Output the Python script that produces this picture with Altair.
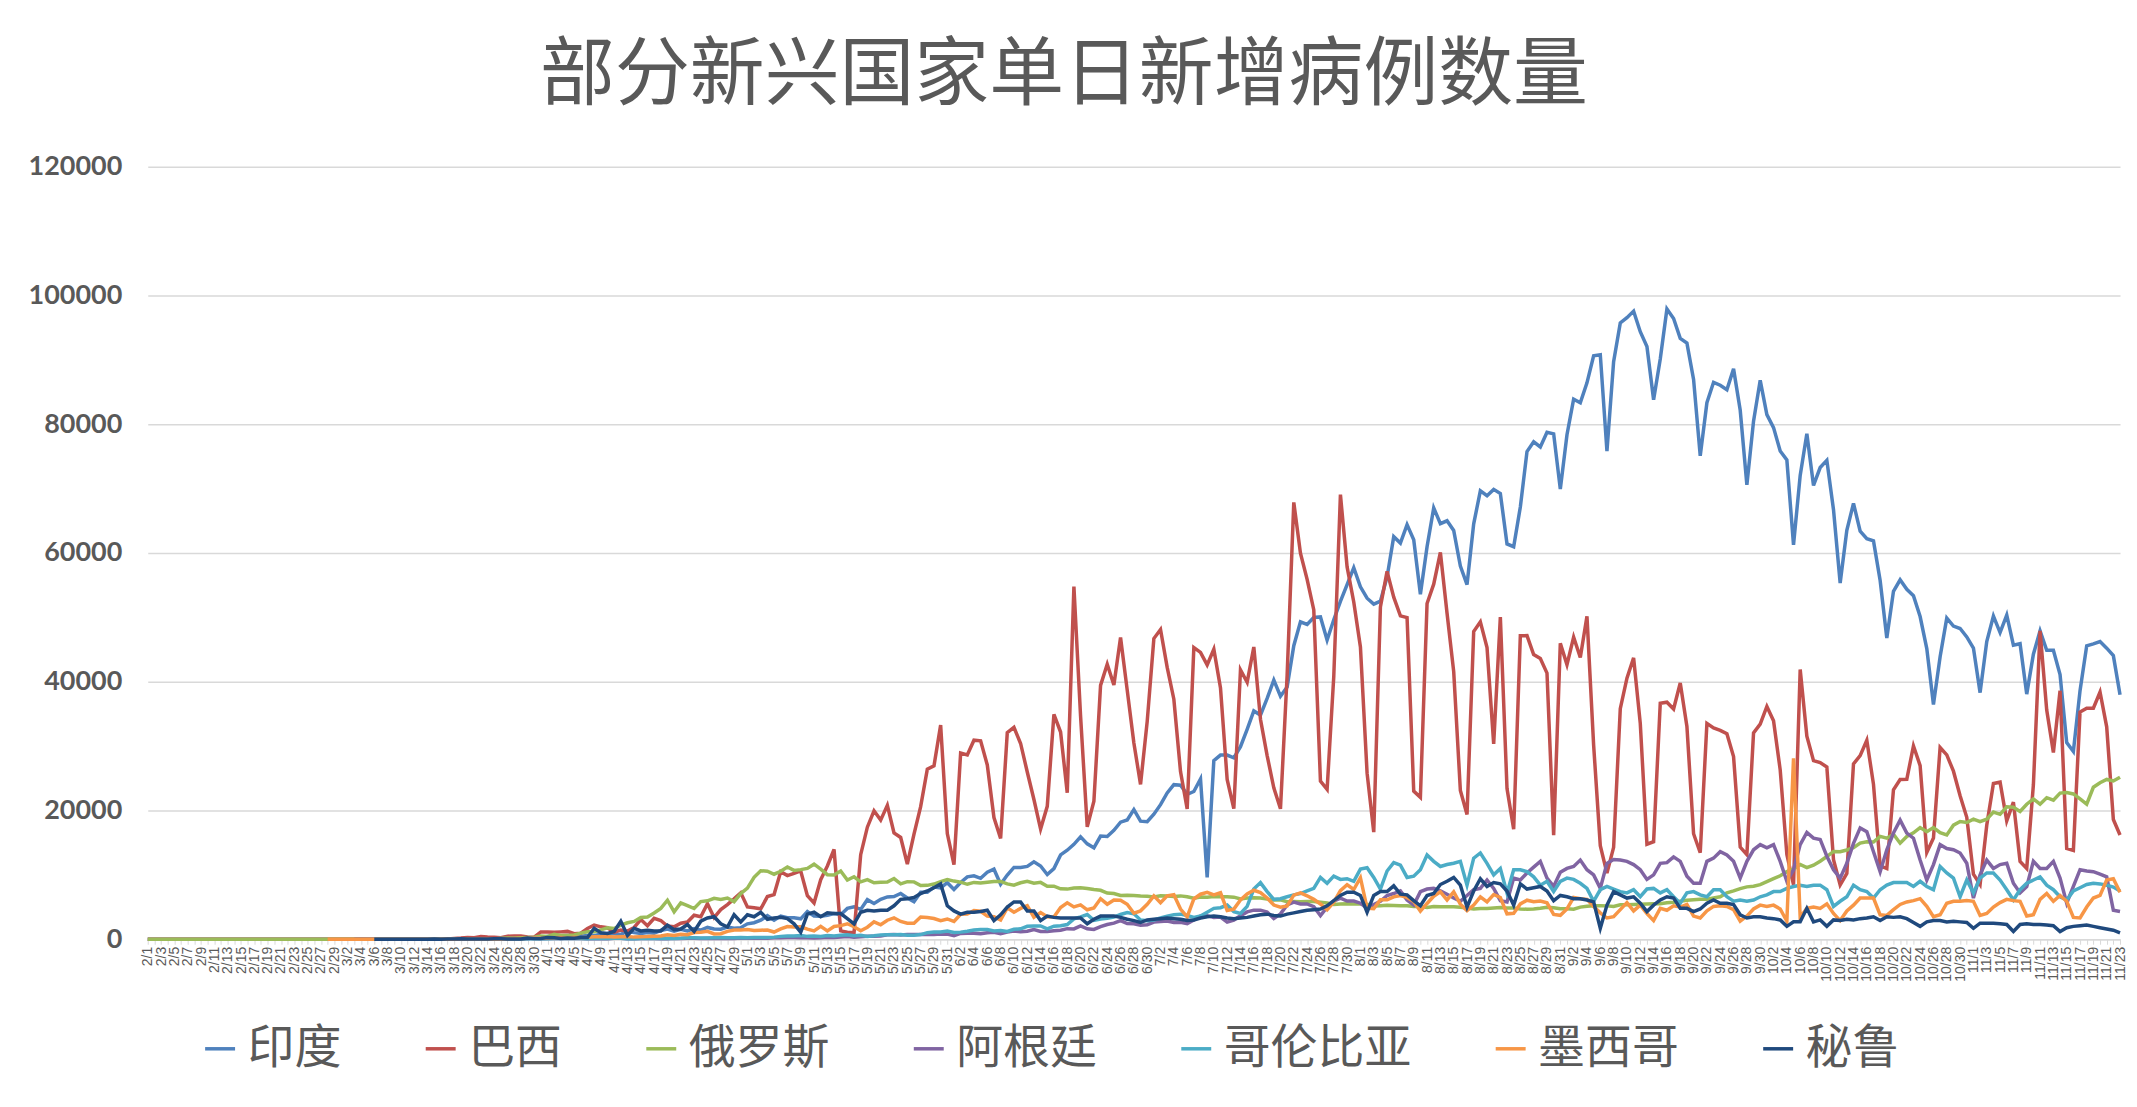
import altair as alt
import pandas as pd

# categories: one per day, 2/1 .. 11/23
dates = pd.date_range("2020-02-01", "2020-11-23", freq="D")
date_labels = [f"{d.month}/{d.day}" for d in dates]
month_len = [29, 31, 30, 31, 30, 31, 31, 30, 31, 23]

countries = ["印度", "巴西", "俄罗斯", "阿根廷", "哥伦比亚", "墨西哥", "秘鲁"]
colors = ["#4F81BD", "#C0504D", "#9BBB59", "#8064A2", "#4BACC6", "#F79646", "#1F497D"]
first_day = ["2/1", "2/1", "2/1", "3/3", "3/6", "2/28", "3/6"]

# daily new cases, one inner list per month (Feb .. Nov)
india = [
    [0, 1, 1, 0, 0, 0, 0, 0, 0, 0, 0, 0, 0, 0, 0, 0, 0, 0, 0, 0, 0, 0, 0, 0, 0, 0, 0, 0, 0],
    [0, 2, 1, 22, 2, 1, 3, 5, 9, 15, 8, 10, 12, 11, 10, 16, 14, 14, 28, 58, 79, 69, 94, 74, 86, 73, 153, 136, 120, 187, 309],
    [424, 486, 560, 579, 609, 484, 573, 565, 813, 871, 854, 758, 1243, 1031, 886, 1061, 922, 1371, 1580, 1239, 1537, 1292, 1667, 1408, 1835, 1607, 1568, 1902, 1705, 1801],
    [2396, 2564, 2952, 3656, 2971, 3602, 3344, 3339, 3175, 4311, 3592, 3562, 3726, 3991, 3808, 4794, 5049, 4630, 6147, 5553, 6198, 6568, 6629, 7113, 6414, 5843, 7293, 7300, 8105, 7964, 8789],
    [7723, 8812, 9689, 9849, 9472, 10408, 10882, 8536, 9981, 11156, 11135, 11306, 12039, 11374, 10049, 10974, 13103, 13827, 14740, 15915, 14821, 14199, 16020, 15968, 16922, 18185, 18522, 20131, 18339, 18256],
    [19429, 20903, 22721, 24015, 23932, 22510, 22953, 24898, 9600, 27755, 28606, 28613, 28178, 29917, 32607, 35468, 34820, 37411, 40243, 37740, 39170, 45601, 49310, 48892, 49981, 50072, 46484, 49632, 52479, 55078, 57704],
    [54735, 52972, 52050, 52509, 56282, 62538, 61537, 64399, 62064, 53601, 60963, 66999, 64553, 65002, 63490, 57981, 55079, 64531, 69652, 68898, 69878, 69239, 61408, 60975, 67151, 75760, 77266, 76472, 78761, 78512, 69921],
    [78357, 83883, 83341, 86432, 90632, 90802, 75809, 89706, 95735, 96551, 97570, 94372, 92071, 83809, 90123, 97894, 96424, 93337, 92605, 86961, 75083, 83347, 86508, 86052, 85362, 88600, 82170, 70589, 80472, 86821],
    [81484, 79476, 75829, 74442, 61267, 72049, 78524, 70496, 73272, 74383, 66732, 55342, 63509, 67708, 63371, 62212, 61871, 55722, 46790, 54044, 55839, 54366, 53370, 50129, 45149, 36469, 43893, 49881, 48648, 48268, 46963],
    [45231, 38310, 46253, 50210, 47638, 50357, 45674, 45903, 38073, 44281, 47905, 44879, 44878, 41100, 30548, 29163, 38617, 45576, 45882, 46232, 45209, 44059, 37975],
]
brazil = [
    [0, 0, 0, 0, 0, 0, 0, 0, 0, 0, 0, 0, 0, 0, 0, 0, 0, 0, 0, 0, 0, 0, 0, 0, 0, 1, 0, 0, 1],
    [0, 0, 0, 1, 5, 5, 6, 6, 5, 9, 18, 25, 21, 23, 79, 34, 57, 137, 193, 283, 224, 418, 345, 310, 232, 482, 502, 487, 352, 323, 1138],
    [1119, 1074, 1146, 1222, 852, 926, 1661, 2210, 1930, 1781, 1089, 1442, 1261, 1832, 3058, 2105, 3257, 2917, 2055, 1927, 2498, 2678, 3735, 3503, 5514, 3379, 4613, 5385, 6276, 7218],
    [5015, 4898, 4726, 6633, 6935, 10503, 9888, 10222, 10611, 6760, 5632, 9258, 11385, 13944, 1300, 1100, 1000, 13140, 17408, 19951, 18508, 20803, 16508, 15813, 11687, 16324, 20599, 26417, 26928, 33274, 16409],
    [11598, 28936, 28633, 30925, 30830, 27075, 18912, 15654, 32091, 32913, 30412, 25982, 21704, 17110, 20647, 34918, 32188, 22765, 54771, 34666, 17459, 21432, 39436, 42725, 39483, 46860, 38693, 30476, 24052, 33846],
    [46712, 48105, 42223, 37279, 26051, 20229, 45305, 44571, 42619, 45048, 39023, 24831, 20286, 41857, 39924, 45403, 34177, 28532, 23529, 20257, 41008, 67860, 59961, 55891, 51147, 24578, 23284, 40816, 69074, 57837, 52383],
    [45392, 25800, 16641, 51603, 57152, 53139, 50230, 49970, 23010, 22048, 52160, 55155, 60091, 50644, 41576, 23101, 19373, 47784, 49298, 45323, 30355, 50032, 23421, 17078, 47134, 47161, 44235, 43600, 41350, 16158, 45961],
    [42659, 46934, 43773, 50163, 30168, 14521, 10273, 14279, 35816, 40557, 43718, 33523, 14768, 15155, 36653, 36820, 35757, 39797, 33057, 16389, 13439, 33536, 32817, 32445, 31911, 28378, 14318, 13155, 32058, 33413],
    [36157, 33922, 26310, 13155, 8456, 41906, 31553, 27750, 27444, 26749, 12342, 8426, 10220, 27235, 28523, 30914, 24062, 11397, 10982, 23227, 24818, 24858, 30026, 26979, 13493, 15726, 29787, 28629, 26106, 22282, 18947],
    [10100, 8501, 17700, 24200, 24400, 18400, 21300, 12100, 11000, 24000, 47900, 35600, 29000, 38600, 14100, 13800, 35300, 35900, 35900, 38400, 33000, 18600, 16200],
]
russia = [
    [0, 0, 0, 0, 0, 0, 0, 0, 0, 0, 0, 0, 0, 0, 0, 0, 0, 0, 0, 0, 0, 0, 0, 0, 0, 0, 0, 0, 0],
    [0, 1, 0, 0, 1, 6, 0, 3, 0, 3, 8, 6, 11, 14, 4, 30, 21, 33, 52, 54, 53, 61, 71, 57, 163, 182, 196, 228, 270, 302, 501],
    [440, 771, 601, 582, 658, 954, 1154, 1175, 1459, 1786, 1667, 2186, 2558, 2774, 3388, 3448, 4070, 4785, 6060, 4268, 5642, 5236, 4774, 5849, 5966, 6361, 6198, 6411, 5841, 7099],
    [7933, 9623, 10633, 10581, 10102, 10559, 11231, 10699, 10817, 11012, 11656, 10899, 10028, 9974, 10598, 9200, 9709, 8926, 9263, 8764, 8849, 8894, 9434, 8599, 8946, 8915, 8338, 8371, 8572, 8952, 9268],
    [9035, 8863, 8536, 8831, 8726, 8855, 8984, 8985, 8595, 8404, 8779, 8987, 8706, 8835, 8246, 8248, 7843, 7790, 7972, 8002, 7889, 7728, 7600, 7176, 7113, 6800, 6852, 6791, 6719, 6693],
    [6556, 6760, 6718, 6632, 6736, 6611, 6368, 6562, 6509, 6635, 6611, 6615, 6537, 6248, 6422, 6428, 6406, 6234, 6109, 6139, 5842, 5862, 5811, 5848, 5871, 5765, 5635, 5395, 5475, 5509, 5482],
    [5462, 5427, 5159, 5204, 5267, 5241, 5212, 5189, 5102, 5118, 4945, 5102, 5057, 5065, 5061, 4969, 4839, 4718, 4790, 4767, 4870, 4921, 4852, 4852, 4696, 4676, 4711, 4829, 4980, 4897, 4729],
    [4729, 4670, 4995, 5110, 5205, 5195, 5185, 5099, 5363, 5363, 5406, 5449, 5488, 5509, 5529, 5670, 5762, 5905, 6065, 6148, 6196, 6215, 6431, 6595, 7212, 7523, 7867, 8135, 8232, 8481],
    [8945, 9412, 9859, 10499, 10888, 11615, 11115, 11493, 12126, 12846, 13634, 13592, 13868, 14231, 14926, 15150, 15099, 15982, 15700, 16319, 14922, 15971, 16521, 17340, 16710, 17347, 16550, 16202, 17717, 18283, 18140],
    [18665, 18257, 18648, 19768, 19404, 20582, 20498, 19851, 20977, 21798, 20977, 21983, 21608, 22702, 22778, 22572, 21817, 20977, 23610, 24318, 24822, 24581, 25173],
]
argentina = [
    [1, 0, 1, 6, 1, 3, 5, 2, 2, 12, 3, 11, 11, 9, 14, 14, 31, 30, 67, 41, 36, 86, 116, 87, 101, 55, 75, 146, 88],
    [101, 115, 132, 98, 137, 97, 77, 103, 66, 87, 145, 167, 88, 81, 105, 139, 115, 85, 90, 158, 101, 165, 144, 111, 172, 124, 111, 159, 121, 182],
    [173, 162, 145, 163, 240, 244, 254, 256, 233, 239, 211, 235, 316, 283, 362, 432, 308, 386, 475, 471, 501, 704, 747, 653, 724, 729, 724, 795, 722, 820, 795],
    [564, 904, 949, 929, 840, 1005, 1081, 846, 1116, 1294, 1180, 1242, 1497, 1222, 1214, 1304, 1393, 1646, 1600, 2084, 1629, 1525, 1952, 2285, 2504, 2885, 2430, 2401, 2188, 2262],
    [2667, 2744, 2845, 2605, 2632, 2439, 2979, 3604, 3663, 3367, 3449, 2657, 2979, 3645, 4250, 4518, 4518, 4231, 3223, 3937, 5344, 5782, 5493, 5493, 5064, 3685, 4987, 5932, 6377, 5929, 5929],
    [5600, 4800, 5400, 5900, 6800, 7100, 7500, 6100, 5300, 7400, 7800, 7900, 7500, 7000, 6400, 5900, 6800, 7700, 7900, 9200, 7900, 6000, 5800, 9500, 9200, 10300, 11200, 12100, 9500, 8200, 10400],
    [11000, 11300, 12300, 10800, 10000, 7900, 11800, 12400, 12300, 12100, 11600, 10800, 9300, 10000, 11800, 11900, 12800, 12100, 9800, 8700, 8700, 12100, 12600, 13600, 13100, 12100, 9500, 12100, 13900, 14700],
    [14200, 14700, 12100, 9000, 10800, 14700, 16600, 15700, 15500, 12900, 10800, 9500, 11800, 14900, 17300, 16700, 13600, 10500, 13900, 16500, 18500, 16500, 15700, 12300, 9200, 11600, 14700, 14100, 13900, 13400, 11800],
    [6400, 10000, 12300, 11000, 11600, 11800, 8700, 7200, 8200, 12100, 11000, 11000, 12100, 9500, 5600, 8200, 10800, 10600, 10500, 10100, 9700, 4500, 4300],
]
colombia = [
    [1, 0, 0, 2, 0, 6, 0, 7, 8, 21, 11, 20, 28, 9, 35, 52, 35, 29, 72, 92, 21, 43, 49, 94, 96, 108],
    [92, 104, 115, 121, 124, 114, 79, 163, 126, 107, 165, 152, 71, 75, 130, 127, 129, 133, 156, 133, 170, 231, 230, 200, 213, 229, 262, 237, 242, 275],
    [250, 278, 257, 288, 331, 447, 497, 521, 595, 449, 489, 416, 583, 499, 608, 688, 542, 615, 439, 539, 678, 698, 713, 726, 619, 613, 726, 1025, 1140, 1134, 1263],
    [1051, 1107, 1231, 1422, 1517, 1511, 1301, 1366, 1213, 1543, 1625, 2010, 2047, 2060, 1620, 2026, 2112, 2279, 3171, 3486, 3843, 2932, 3153, 3274, 3430, 3853, 4149, 3950, 3003, 2873],
    [3000, 3300, 3600, 3800, 3900, 3700, 3400, 3600, 4200, 4800, 4900, 5300, 4300, 4000, 5100, 7800, 8800, 7400, 6200, 6300, 6600, 6900, 7100, 7500, 7900, 9600, 8700, 9800, 9300, 9400, 9000],
    [10900, 11100, 9600, 7800, 10600, 11900, 11500, 9600, 9800, 10800, 13100, 12100, 11300, 11600, 11800, 12100, 8400, 12600, 13400, 11800, 10000, 11000, 7200, 10800, 10800, 10500, 9700, 8400, 9000, 7400, 9000],
    [9500, 9300, 8700, 7900, 5900, 7700, 8200, 7800, 7400, 7200, 7700, 6600, 7800, 7900, 7200, 7700, 6600, 5600, 7200, 7400, 6900, 6600, 7700, 7700, 6600, 5900, 6100, 5900, 6100, 6600],
    [6900, 7400, 7400, 7900, 8200, 8400, 8200, 8400, 8400, 7700, 5100, 5900, 6600, 8400, 7700, 7400, 6400, 7700, 8400, 8800, 8800, 8800, 8200, 9000, 8200, 7700, 11300, 10300, 9500, 6600, 9200],
    [7200, 9500, 10300, 10300, 9200, 7700, 6100, 7700, 8700, 9200, 9700, 8400, 7700, 6600, 6100, 7500, 8000, 8500, 8700, 8600, 8400, 8100, 7500],
]
mexico = [
    [2, 2],
    [0, 1, 0, 1, 0, 1, 0, 0, 1, 0, 4, 4, 4, 15, 14, 12, 29, 11, 25, 46, 39, 48, 65, 53, 38, 70, 110, 131, 139, 142, 163],
    [178, 225, 284, 160, 299, 253, 296, 396, 403, 429, 350, 407, 442, 332, 384, 412, 482, 500, 702, 578, 764, 699, 1043, 1089, 1239, 835, 852, 1223, 1448, 1425],
    [1515, 1349, 1406, 1434, 1120, 1609, 1982, 1906, 1938, 1562, 1305, 1997, 1305, 1992, 2112, 2409, 1937, 1305, 1873, 2713, 2248, 2960, 3329, 2764, 2483, 2485, 3455, 3377, 3227, 2885, 3152],
    [2771, 3891, 3912, 4442, 4346, 3593, 3484, 2999, 4883, 4199, 4790, 5222, 3427, 4147, 3494, 3455, 4930, 5662, 5030, 5343, 4577, 4866, 6288, 5441, 6104, 6066, 5441, 4050, 4410, 5432],
    [6741, 5681, 6740, 6914, 4683, 3486, 6258, 6995, 7280, 6891, 7221, 4482, 4685, 6094, 7051, 7615, 7257, 6406, 5311, 4973, 5172, 6859, 7208, 6751, 6197, 5480, 4579, 5752, 7548, 8458, 7730],
    [9556, 4853, 4767, 6148, 6139, 6590, 6799, 6495, 5858, 4376, 5558, 6686, 7371, 6107, 7371, 5454, 4448, 5311, 6590, 5792, 6948, 6482, 3948, 4035, 5489, 6064, 5824, 5936, 5658, 3858, 3719],
    [4700, 6500, 6300, 6200, 5100, 4100, 3300, 3500, 4600, 5700, 4400, 5300, 4000, 2900, 4800, 4500, 5200, 5000, 5400, 3600, 3300, 4400, 5100, 5200, 5100, 4600, 2800, 3600, 4700, 5300],
    [5100, 5300, 4700, 2800, 28115, 3400, 4800, 5000, 4800, 5500, 4000, 2900, 4400, 5300, 6400, 6400, 6400, 3800, 3700, 4600, 5400, 5800, 6000, 6300, 5100, 3500, 3800, 5600, 5900, 5900, 6000],
    [5900, 3700, 4000, 5000, 5700, 6200, 6000, 5900, 3600, 3800, 6200, 7100, 5900, 6800, 5900, 3400, 3300, 5000, 6400, 6800, 9200, 9400, 7300],
]
peru = [
    [1, 0, 5, 2, 1, 2, 7, 6, 6, 33, 15, 31, 30, 89, 31, 55, 32, 21, 63, 64, 50, 55, 36, 181, 98, 102],
    [258, 224, 100, 181, 140, 276, 274, 1700, 1000, 900, 1200, 2800, 600, 1700, 1300, 1400, 1300, 1300, 2200, 1500, 1600, 2300, 1200, 2800, 3300, 3500, 2400, 1900, 3800, 2700],
    [3800, 3500, 4200, 3100, 3300, 3400, 3200, 2400, 1100, 3900, 4200, 3500, 4100, 4000, 4000, 3200, 2400, 4200, 4500, 4400, 4500, 4500, 5200, 6200, 6300, 6500, 7100, 7500, 8000, 8600, 5200],
    [4400, 3900, 4200, 4200, 4300, 4500, 2900, 3800, 5000, 5800, 5800, 4400, 4400, 2900, 3600, 3400, 3300, 3300, 3300, 3300, 2400, 3100, 3600, 3600, 3600, 3400, 3100, 2900, 2600, 3000],
    [3100, 3200, 3300, 3200, 3100, 2900, 3000, 3300, 3500, 3600, 3500, 3300, 3200, 3300, 3400, 3600, 3800, 3900, 3700, 3600, 3900, 4100, 4300, 4500, 4600, 4700, 5200, 6000, 6800, 7300, 7300],
    [6800, 4200, 6800, 7400, 7400, 8300, 7000, 6900, 6000, 5200, 6800, 7100, 8500, 9000, 9600, 8400, 5000, 7500, 9400, 8200, 8800, 8600, 7500, 5300, 8600, 7800, 8000, 8200, 7500, 6000, 6800],
    [6600, 6300, 6300, 6100, 5800, 1700, 5300, 7400, 6900, 6400, 6600, 5600, 4300, 5300, 6100, 6600, 6400, 4800, 4800, 4300, 4700, 5600, 6100, 5600, 5600, 5400, 3800, 3300, 3500, 3500],
    [3300, 3200, 3000, 2000, 2700, 2700, 4800, 2700, 3000, 2000, 3000, 2900, 3100, 3000, 3200, 3300, 3500, 2900, 3500, 3400, 3500, 3200, 2600, 2000, 2700, 2900, 2900, 2700, 2800, 2700, 2600],
    [1700, 2500, 2500, 2500, 2400, 2300, 1200, 2300, 2400, 2300, 2300, 2200, 2100, 1200, 1800, 2000, 2100, 2200, 2000, 1800, 1600, 1400, 1000],
]
series = [india, brazil, russia, argentina, colombia, mexico, peru]

rows = []
for name, start, months in zip(countries, first_day, series):
    i0 = date_labels.index(start)
    tail = month_len[len(month_len) - len(months) + 1:]
    assert [len(m) for m in months[1:]] == tail, name
    vals = [v for m in months for v in m]
    assert i0 + len(vals) == len(dates), (name, i0 + len(vals))
    for k, v in enumerate(vals):
        rows.append({"day": i0 + k, "country": name, "cases": v})
df = pd.DataFrame(rows)

# every category gets a tick, every other one a label
label_js = "[" + ",".join(f"'{s}'" if i % 2 == 0 else "''" for i, s in enumerate(date_labels)) + "]"

x_axis = alt.Axis(
    values=list(range(len(dates))), labelExpr=f"{label_js}[datum.value]",
    labelAngle=-90, labelAlign="right", labelBaseline="middle", labelOverlap=False,
    labelFont="Liberation Sans", labelFontSize=14, labelColor="#595959", labelPadding=2,
    labelBound=False, labelFlush=False, grid=False, domainColor="#d9d9d9", domainWidth=1.5,
    tickColor="#d9d9d9", tickSize=5, title=None,
)
y_axis = alt.Axis(
    values=list(range(0, 120001, 20000)), format="d", labelFont="Lato", labelFontWeight="bold",
    labelFontSize=27, labelColor="#595959", labelPadding=26, domain=False, ticks=False,
    gridColor="#d9d9d9", gridWidth=1.5, title=None, minExtent=140, maxExtent=140,
)
legend = alt.Legend(
    orient="none", legendX=49, legendY=860, direction="horizontal", title=None,
    symbolType="stroke", symbolSize=900, symbolStrokeWidth=3.5, labelFont="Noto Sans CJK SC",
    labelFontSize=47, labelColor="#595959", labelLimit=400, columnPadding=76, symbolOffset=0,
)

layers = []
for name in countries:
    layers.append(
        alt.Chart(df).transform_filter(alt.datum.country == name).mark_line(strokeWidth=3.5).encode(
            x=alt.X("day:Q", scale=alt.Scale(domain=[0, len(dates) - 1], nice=False, zero=False), axis=x_axis),
            y=alt.Y("cases:Q", scale=alt.Scale(domain=[0, 120000], nice=False), axis=y_axis),
            color=alt.Color("country:N", scale=alt.Scale(domain=countries, range=colors), legend=legend),
        )
    )

chart = alt.layer(*layers).properties(
    width=1976, height=774,
    padding={"left": 0, "top": 30, "right": 2, "bottom": 5},
    title=alt.TitleParams(
        "部分新兴国家单日新增病例数量", font="Noto Sans CJK SC", fontSize=75, fontWeight="normal",
        color="#595959", anchor="middle", offset=38, dx=-70,
    ),
).configure(background="white", view=alt.ViewConfig(stroke=None))

chart.save("out.html", embed_options={"renderer": "svg", "actions": False})
